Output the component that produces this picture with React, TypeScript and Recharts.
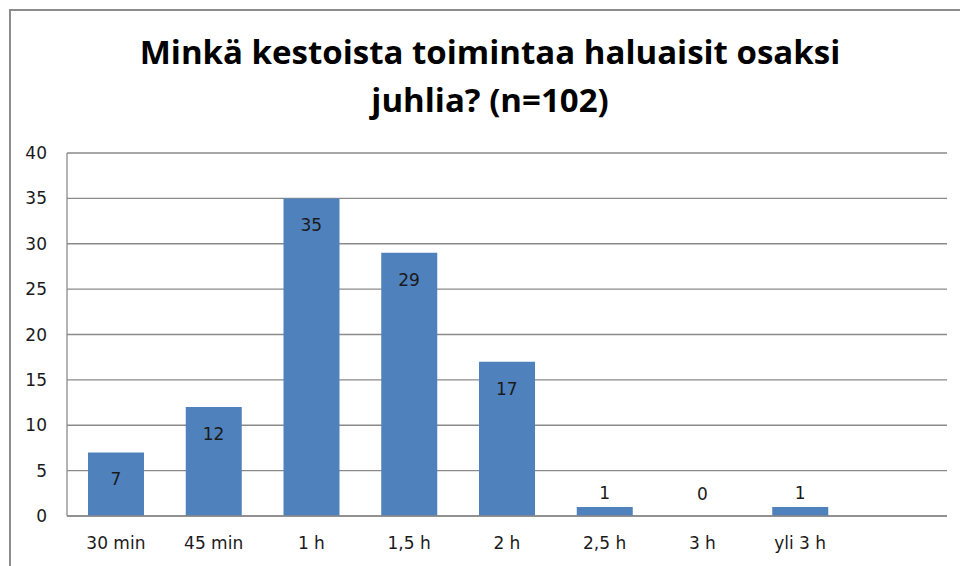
import React from "react";
import { ComposedChart, Bar, Line, XAxis, YAxis, CartesianGrid } from "recharts";

const categories = ["30 min", "45 min", "1 h", "1,5 h", "2 h", "2,5 h", "3 h", "yli 3 h"];
const counts = [7, 12, 35, 29, 17, 1, 0, 1];
const yTicks = [0, 5, 10, 15, 20, 25, 30, 35, 40];
const titleLines = ["Minkä kestoista toimintaa haluaisit osaksi", "juhlia? (n=102)"];

const data = categories.map((c, i) => ({ name: c, value: counts[i] }));

const renderLabel = (props: any) => {
  const { x, y, index } = props;
  const v = counts[index];
  const inside = v >= 3;
  const dy = inside ? 27 : v === 0 ? -22 : -14;
  return (
    <text
      key={index}
      x={x}
      y={y + dy}
      textAnchor="middle"
      dominantBaseline="central"
      fill="#1a1a1a"
      fontSize={17}
      fontFamily="DejaVu Sans"
    >
      {v}
    </text>
  );
};

export default function App() {
  return (
    <div style={{ position: "absolute", left: 0, top: 0, width: 960, height: 566, background: "#fff" }}>
      <div
        style={{
          position: "absolute",
          left: 9,
          top: 9,
          width: 980,
          height: 600,
          borderLeft: "2px solid #8c8c8c",
          borderTop: "2px solid #8c8c8c",
        }}
      />
      <svg width={960} height={566} style={{ position: "absolute", left: 0, top: 0 }}>
        {titleLines.map((l, i) => (
          <text
            key={i}
            x={490}
            y={64 + i * 48}
            textAnchor="middle"
            fontFamily="Open Sans"
            fontWeight={700}
            fontSize={33}
            fill="#000"
          >
            {l}
          </text>
        ))}
      </svg>
      <div style={{ position: "absolute", left: 0, top: 0 }}>
        <ComposedChart
          width={960}
          height={566}
          data={data}
          margin={{ top: 153, right: 13, bottom: 0, left: 10 }}
        >
          <CartesianGrid horizontal vertical={false} stroke="#8a8a8a" strokeWidth={1.3} />
          <XAxis
            dataKey="name"
            padding={{ left: 0, right: 98 }}
            height={50}
            tickLine={false}
            tickSize={0}
            tickMargin={21}
            axisLine={{ stroke: "#8a8a8a", strokeWidth: 1.3 }}
            tick={{ fill: "#1a1a1a", fontSize: 17, fontFamily: "DejaVu Sans" }}
            interval={0}
          />
          <YAxis
            width={57}
            domain={[0, 40]}
            ticks={yTicks}
            tickLine={false}
            tickSize={0}
            tickMargin={20}
            axisLine={{ stroke: "#8a8a8a", strokeWidth: 1.3 }}
            tick={{ fill: "#1a1a1a", fontSize: 17, fontFamily: "DejaVu Sans" }}
          />
          <Bar dataKey="value" fill="#4F81BD" barSize={56} isAnimationActive={false} />
          <Line
            dataKey="value"
            stroke="none"
            dot={false}
            activeDot={false}
            label={renderLabel}
            isAnimationActive={false}
          />
        </ComposedChart>
      </div>
    </div>
  );
}
